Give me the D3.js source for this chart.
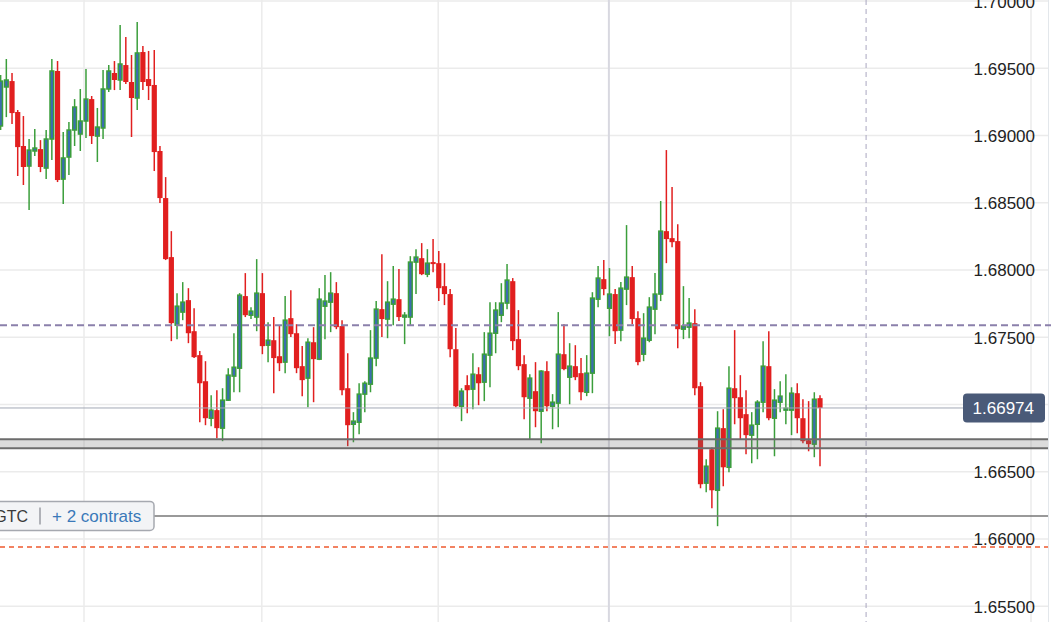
<!DOCTYPE html>
<html><head><meta charset="utf-8">
<script src="https://cdn.jsdelivr.net/npm/d3@7"></script>
<style>html,body{margin:0;padding:0;background:#fff;overflow:hidden}svg{display:block}</style>
</head><body><svg id="c" width="1051" height="622"></svg>
<script>
const opens=[1.69071,1.69361,1.69405,1.69175,1.68922,1.68773,1.68885,1.68899,1.68758,1.68974,
1.69480,1.68676,1.68840,1.69041,1.69011,1.69108,1.69271,1.68996,1.69056,1.69346,
1.69465,1.69413,1.69524,1.69398,1.69279,1.69621,1.69420,1.69376,1.68885,1.68535,
1.68096,1.67590,1.67687,1.67776,1.67545,1.67367,1.67173,1.66898,1.66958,1.66824,
1.67032,1.67211,1.67270,1.67806,1.67664,1.67650,1.67828,1.67441,1.67478,1.67359,
1.67315,1.67642,1.67530,1.67285,1.67196,1.67463,1.67337,1.67731,1.67761,1.67828,
1.67583,1.67121,1.66853,1.66868,1.67077,1.67151,1.67345,1.67709,1.67635,1.67746,
1.67783,1.67650,1.67650,1.68059,1.68088,1.67969,1.68059,1.68051,1.67880,1.67821,
1.67411,1.66987,1.67144,1.67114,1.67225,1.67166,1.67367,1.67530,1.67664,1.67754,
1.67917,1.67486,1.67300,1.67047,1.67099,1.66950,1.67248,1.66987,1.67010,1.67374,
1.67203,1.67285,1.67233,1.67091,1.67233,1.67783,1.67932,1.67716,1.67821,1.67553,
1.67858,1.67947,1.67642,1.67374,1.67478,1.67709,1.67821,1.68289,1.68237,1.68215,
1.67560,1.67575,1.67605,1.67136,1.66415,1.66667,1.66362,1.66824,1.66533,1.67121,
1.67054,1.66928,1.66772,1.66853,1.67017,1.67285,1.66898,1.67017,1.66958,1.66958,
1.67084,1.66898,1.66734,1.66705,1.67047];
const highs=[1.69450,1.69569,1.69465,1.69190,1.69145,1.68974,1.69048,1.68966,1.69041,1.69569,
1.69554,1.69026,1.69100,1.69271,1.69346,1.69495,1.69294,1.69205,1.69487,1.69524,
1.69554,1.69822,1.69733,1.69599,1.69844,1.69666,1.69629,1.69636,1.68922,1.68691,
1.68289,1.67828,1.67910,1.67865,1.67716,1.67397,1.67322,1.67069,1.67106,1.67121,
1.67270,1.67530,1.67828,1.67977,1.67724,1.68081,1.67977,1.67612,1.67650,1.67590,
1.67806,1.67850,1.67597,1.67434,1.67493,1.67575,1.67865,1.67962,1.67984,1.67910,
1.67627,1.67381,1.66943,1.67158,1.67173,1.67553,1.67769,1.68118,1.67917,1.68029,
1.68007,1.67687,1.68103,1.68155,1.68200,1.68155,1.68230,1.68141,1.68051,1.67858,
1.67568,1.67121,1.67218,1.67381,1.67277,1.67538,1.67761,1.67761,1.67902,1.68044,
1.67940,1.67702,1.67367,1.67225,1.67315,1.67255,1.67322,1.67077,1.67687,1.67597,
1.67456,1.67441,1.67345,1.67367,1.67835,1.68029,1.68074,1.68014,1.67858,1.67910,
1.68334,1.68029,1.67694,1.67679,1.67798,1.67977,1.68513,1.68892,1.68617,1.68341,
1.67880,1.67791,1.67709,1.67166,1.66593,1.66680,1.66950,1.66965,1.67285,1.67553,
1.67218,1.67106,1.66943,1.67032,1.67471,1.67545,1.67114,1.67173,1.67225,1.67128,
1.67158,1.67039,1.67025,1.67091,1.67069];
const lows=[1.69041,1.69137,1.69085,1.68699,1.68632,1.68446,1.68847,1.68728,1.68676,1.68818,
1.68654,1.68490,1.68706,1.68922,1.68885,1.68981,1.68937,1.68803,1.68974,1.69324,
1.69338,1.69338,1.69383,1.68989,1.69190,1.69338,1.69264,1.68736,1.68498,1.68074,
1.67471,1.67486,1.67627,1.67456,1.67345,1.66868,1.66846,1.66839,1.66749,1.66727,
1.67025,1.67091,1.67091,1.67650,1.67635,1.67545,1.67374,1.67315,1.67084,1.67248,
1.67233,1.67501,1.67233,1.67062,1.66980,1.67017,1.67330,1.67486,1.67538,1.67560,
1.67069,1.66690,1.66719,1.66779,1.66943,1.67091,1.67285,1.67501,1.67493,1.67590,
1.67620,1.67449,1.67590,1.67821,1.67962,1.67947,1.67984,1.67769,1.67739,1.67352,
1.66980,1.66876,1.66935,1.66965,1.66995,1.67025,1.67128,1.67381,1.67612,1.67709,
1.67404,1.67255,1.66891,1.66742,1.66831,1.66712,1.66950,1.66816,1.66831,1.67255,
1.67002,1.67181,1.67032,1.67062,1.67084,1.67724,1.67813,1.67508,1.67449,1.67471,
1.67739,1.67597,1.67292,1.67322,1.67463,1.67523,1.67769,1.68051,1.68170,1.67419,
1.67486,1.67493,1.67069,1.66377,1.66348,1.66228,1.66095,1.66392,1.66496,1.66853,
1.66742,1.66630,1.66563,1.66593,1.66943,1.66883,1.66615,1.66943,1.66853,1.66772,
1.66786,1.66712,1.66652,1.66608,1.66541];
const closes=[1.69405,1.69413,1.69167,1.68914,1.68766,1.68892,1.68907,1.68766,1.68974,1.69480,
1.68669,1.68833,1.69041,1.69212,1.69108,1.69271,1.68996,1.69063,1.69346,1.69480,
1.69413,1.69532,1.69398,1.69279,1.69614,1.69398,1.69368,1.68877,1.68535,1.68081,
1.67605,1.67731,1.67761,1.67530,1.67352,1.67158,1.66898,1.66958,1.66824,1.67032,
1.67218,1.67277,1.67813,1.67664,1.67694,1.67828,1.67434,1.67478,1.67345,1.67307,
1.67627,1.67523,1.67270,1.67181,1.67463,1.67337,1.67783,1.67769,1.67828,1.67575,
1.67106,1.66846,1.66876,1.67077,1.67158,1.67345,1.67709,1.67635,1.67761,1.67783,
1.67650,1.67664,1.68059,1.68096,1.67969,1.68051,1.68044,1.67865,1.67821,1.67411,
1.66987,1.67099,1.67106,1.67225,1.67158,1.67374,1.67530,1.67702,1.67754,1.67925,
1.67471,1.67285,1.67054,1.67196,1.66950,1.67248,1.66987,1.67017,1.67374,1.67263,
1.67285,1.67203,1.67091,1.67233,1.67791,1.67940,1.67858,1.67821,1.67545,1.67865,
1.67947,1.67635,1.67315,1.67493,1.67724,1.67821,1.68289,1.68230,1.68207,1.67560,
1.67583,1.67605,1.67121,1.66407,1.66541,1.66362,1.66824,1.66533,1.67121,1.67047,
1.66898,1.66772,1.66846,1.67017,1.67285,1.66898,1.67032,1.67062,1.66972,1.67084,
1.66898,1.66727,1.66705,1.67039,1.66974];
const tickLabels=[1.655,1.660,1.665,1.670,1.675,1.680,1.685,1.690,1.695,1.700];
const currentPrice=1.66974;
const orderLevel=1.67590;
const bandLevels=[1.66742,1.66675];
const gtcLevel=1.66171;
const stopLevel=1.65941;
const timeGridIdx=[14.65,45.9,76.9,138.9];
const cursorIdx=106.9;
const markerIdx=152.1;
const badgeTexts=["GTC","+ 2 contrats"];

const FONT="'Liberation Sans', Arial, sans-serif";
const svg=d3.select('#c');
const x=d3.scaleLinear().domain([0,opens.length-1]).range([0.64,820]);
const y=d3.scaleLinear().domain([1.655,1.700]).range([606.2,1.06]);
const RIGHT=1048;

// horizontal grid
svg.append('g').selectAll('line').data(tickLabels).join('line')
  .attr('x1',0).attr('x2',RIGHT).attr('y1',d=>y(d)).attr('y2',d=>y(d))
  .attr('stroke','#ebebeb').attr('stroke-width',1.5);
// vertical grid
svg.append('g').selectAll('line').data(timeGridIdx).join('line')
  .attr('x1',d=>x(d)).attr('x2',d=>x(d)).attr('y1',0).attr('y2',622)
  .attr('stroke','#ebebeb').attr('stroke-width',1.5);
svg.append('line').attr('x1',1031).attr('x2',1031).attr('y1',0).attr('y2',622).attr('stroke','#ebebeb').attr('stroke-width',1.5);
svg.append('line').attr('x1',1048.5).attr('x2',1048.5).attr('y1',0).attr('y2',622).attr('stroke','#e3e7eb').attr('stroke-width',1);
// cursor line
svg.append('line').attr('x1',x(cursorIdx)).attr('x2',x(cursorIdx)).attr('y1',0).attr('y2',622)
  .attr('stroke','#d8d8e0').attr('stroke-width',2);
// dashed vertical marker
svg.append('line').attr('x1',x(markerIdx)).attr('x2',x(markerIdx)).attr('y1',0).attr('y2',622)
  .attr('stroke','#aaa6c0').attr('stroke-width',1).attr('stroke-dasharray','5,4');

// candles
const data=opens.map((o,i)=>({i,o,h:highs[i],l:lows[i],c:closes[i],up:closes[i]>=o}));
const GREEN='#3b9e3b', RED='#e11f1f', BLUE='#3a6db0';
const cg=svg.append('g');
cg.selectAll('line').data(data).join('line')
  .attr('x1',d=>x(d.i)).attr('x2',d=>x(d.i)).attr('y1',d=>y(d.h)).attr('y2',d=>y(d.l))
  .attr('stroke',d=>d.up?GREEN:RED).attr('stroke-width',1.5);
cg.selectAll('rect.dn').data(data.filter(d=>!d.up)).join('rect').attr('class','dn')
  .attr('x',d=>x(d.i)-2.6).attr('width',5.2)
  .attr('y',d=>y(d.o)).attr('height',d=>Math.max(1.4,y(d.c)-y(d.o)))
  .attr('fill',RED);
cg.selectAll('rect.up').data(data.filter(d=>d.up)).join('rect').attr('class','up')
  .attr('x',d=>x(d.i)-1.85).attr('width',3.7)
  .attr('y',d=>y(d.c)).attr('height',d=>Math.max(0.3,y(d.o)-y(d.c)))
  .attr('fill',BLUE).attr('stroke',GREEN).attr('stroke-width',1.5);

// levels
svg.append('line').attr('x1',0).attr('x2',963).attr('y1',y(currentPrice)).attr('y2',y(currentPrice))
  .attr('stroke','#a2a8b5').attr('stroke-width',1);
svg.append('line').attr('x1',0).attr('x2',1051).attr('y1',y(orderLevel)).attr('y2',y(orderLevel))
  .attr('stroke','#8b80ab').attr('stroke-width',2).attr('stroke-dasharray','7,4');
svg.append('rect').attr('x',0).attr('width',RIGHT).attr('y',y(bandLevels[0])).attr('height',y(bandLevels[1])-y(bandLevels[0]))
  .attr('fill','rgba(110,110,110,0.25)');
svg.append('g').selectAll('line').data(bandLevels).join('line')
  .attr('x1',0).attr('x2',RIGHT).attr('y1',d=>y(d)).attr('y2',d=>y(d))
  .attr('stroke','#6c6c6c').attr('stroke-width',2);
svg.append('line').attr('x1',150).attr('x2',RIGHT).attr('y1',y(gtcLevel)).attr('y2',y(gtcLevel))
  .attr('stroke','#777').attr('stroke-width',1.5);
svg.append('line').attr('x1',0).attr('x2',RIGHT).attr('y1',y(stopLevel)).attr('y2',y(stopLevel))
  .attr('stroke','#ee5a2f').attr('stroke-width',1.5).attr('stroke-dasharray','5,4');

// GTC badge
const by=y(gtcLevel);
svg.append('rect').attr('x',-10).attr('y',by-14.5).attr('width',164).attr('height',29).attr('rx',4)
  .attr('fill','#f3f4f6').attr('stroke','#a6a9b0').attr('stroke-width',1.5);
svg.append('text').attr('x',28).attr('y',by).attr('dy','0.35em').attr('text-anchor','end')
  .attr('font-family',FONT).attr('font-size',16).attr('fill','#3a3a3a').text(badgeTexts[0]);
svg.append('line').attr('x1',40).attr('x2',40).attr('y1',by-8.5).attr('y2',by+8.5).attr('stroke','#9a9ca3').attr('stroke-width',1.5);
svg.append('text').attr('x',52).attr('y',by).attr('dy','0.35em')
  .attr('font-family',FONT).attr('font-size',17).attr('fill','#3a79b9').text(badgeTexts[1]);

// axis (labels hidden where the current-price tag covers them)
const py=y(currentPrice);
const axis=d3.axisRight(y).tickValues(tickLabels.filter(t=>Math.abs(y(t)-py)>18))
  .tickFormat(d3.format('.5f')).tickSize(0);
const ag=svg.append('g').call(axis).attr('font-family',FONT).attr('font-size',17);
ag.select('.domain').remove();
ag.selectAll('text').attr('x',1035).attr('text-anchor','end').attr('fill','#222').attr('dy','0.35em');

// price label
svg.append('rect').attr('x',963).attr('y',py-14.5).attr('width',82).attr('height',29).attr('rx',4).attr('fill','#4a5a78');
svg.append('text').attr('x',1034).attr('y',py).attr('dy','0.35em').attr('text-anchor','end')
  .attr('font-family',FONT).attr('font-size',17).attr('fill','#fff').text(d3.format('.5f')(currentPrice));
</script></body></html>
